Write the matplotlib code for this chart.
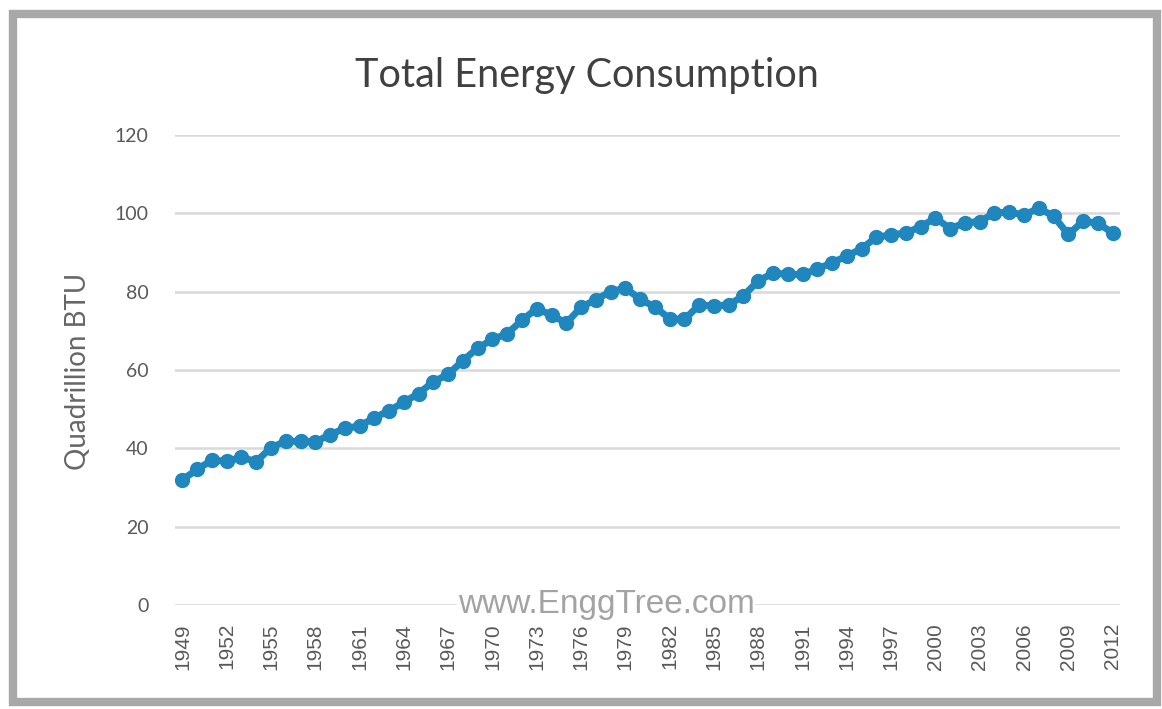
import matplotlib
matplotlib.use("Agg")
import matplotlib.pyplot as plt
from matplotlib.patches import Rectangle

# Annual totals, quadrillion BTU
years = list(range(1949, 2013))
consumption = [
    32.0, 34.6, 37.0, 36.7, 37.7, 36.6, 40.2, 41.8, 41.8, 41.6,
    43.5, 45.1, 45.7, 47.8, 49.6, 51.8, 54.0, 57.0, 58.9, 62.4,
    65.6, 67.8, 69.3, 72.7, 75.7, 74.0, 72.0, 76.0, 78.0, 80.0,
    80.9, 78.1, 76.1, 73.1, 72.9, 76.6, 76.4, 76.6, 79.0, 82.7,
    84.8, 84.4, 84.4, 85.8, 87.4, 89.1, 91.0, 93.9, 94.5, 95.0,
    96.6, 98.8, 96.1, 97.6, 97.9, 100.1, 100.3, 99.6, 101.3, 99.3,
    94.6, 98.0, 97.5, 95.0,
]
y_ticks = [0, 20, 40, 60, 80, 100, 120]
tick_years = years[::3]

W, H = 1162, 709
fig = plt.figure(figsize=(W / 100, H / 100), dpi=100)
fig.patch.set_facecolor("white")

# grey frame around the chart
frame = Rectangle((13 / W, 1 - 702 / H), (1157 - 13) / W, (702 - 14) / H,
                  transform=fig.transFigure, fill=False,
                  edgecolor="#a8a8a8", linewidth=6, zorder=0)
fig.add_artist(frame)

ax = fig.add_axes([175 / W, 1 - 605 / H, (1120 - 175) / W, (605 - 135) / H])
ax.set_facecolor("white")

xs = list(range(len(years)))
ax.plot(xs, consumption, color="#1f87bd", linewidth=5, marker="o",
        markersize=10, markerfacecolor="#1f87bd", markeredgecolor="#1f87bd",
        zorder=3, solid_capstyle="round")

ax.set_xlim(-0.5, len(years) - 0.5)
ax.set_ylim(0, 120)
ax.set_yticks(y_ticks)
ax.grid(axis="y", color="#d9d9d9", linewidth=1.8)
ax.set_axisbelow(True)
for s in ax.spines.values():
    s.set_visible(False)

ax.set_xticks([years.index(y) for y in tick_years])
ax.set_xticklabels([str(y) for y in tick_years], rotation=90,
                   fontsize=15, color="#595959", family="Liberation Sans")
ax.tick_params(axis="x", length=0, pad=13)
ax.tick_params(axis="y", length=0, pad=19, labelsize=14, labelcolor="#595959")
for lbl in ax.get_yticklabels():
    lbl.set_family("Lato")

fig.text(78 / W, 1 - 371 / H, "Quadrillion BTU", rotation=90, ha="center",
         va="center", fontsize=20, color="#666666", family="Lato")

fig.text(587 / W, 1 - 87 / H, "Total Energy Consumption", ha="center",
         va="baseline", fontsize=28.5, color="#404040", family="Lato")

fig.text(606 / W, 1 - 604 / H, "www.EnggTree.com", ha="center", va="center",
         fontsize=24, color="#a3a3a3", family="Liberation Sans",
         bbox=dict(facecolor="white", edgecolor="none", pad=0.5), zorder=5)

fig.savefig("out.png", dpi=100, facecolor="white")
